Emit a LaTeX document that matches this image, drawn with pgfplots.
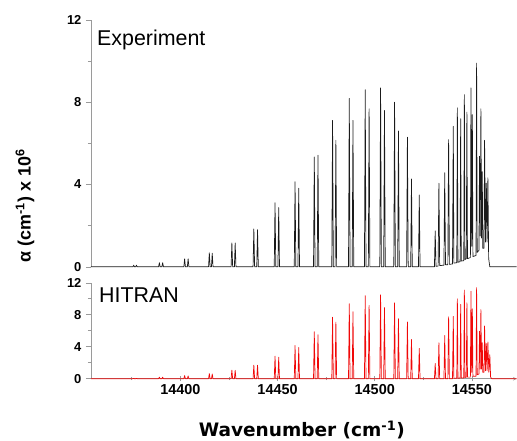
\documentclass[border=0pt]{standalone}
\usepackage{pgfplots}
\pgfplotsset{compat=1.18}
\usepackage{pgfplotstable}
\usepackage{fontspec}
\setmainfont{Liberation Sans}
\newfontfamily\dejavu{DejaVu Sans}
\definecolor{axgray}{HTML}{9A9A9A}
\definecolor{expcol}{HTML}{1A1A1A}
\definecolor{hitcol}{HTML}{F00808}

\pgfplotstableread{
x y
14354.0 0
14375.6 0
14376.0 0.08
14376.4 0
14377.0 0
14377.4 0.08
14377.8 0
14388.8 0
14389.2 0.20
14389.6 0
14390.5 0
14390.9 0.20
14391.3 0
14401.8 0
14402.2 0.39
14402.6 0
14403.6 0
14404.0 0.39
14404.4 0
14414.5 0
14414.9 0.68
14415.3 0
14416.0 0
14416.4 0.66
14416.8 0
14426.1 0
14426.5 1.16
14426.9 0
14427.8 0
14428.2 1.16
14428.6 0
14437.4 0
14437.8 1.84
14438.2 0
14439.3 0
14439.7 1.80
14440.1 0
14448.3 0
14448.7 3.12
14449.1 0
14450.2 0
14450.6 2.88
14451.0 0
14458.6 0
14459.0 4.14
14459.4 0
14460.5 0
14460.9 3.82
14461.3 0
14468.5 0
14468.9 5.34
14469.3 0
14470.4 0
14470.8 5.43
14471.2 0
14477.9 0
14478.3 7.12
14478.7 0
14479.6 0
14480.0 6.15
14480.4 0
14486.5 0
14486.9 8.19
14487.3 0
14488.4 0
14488.8 7.12
14489.2 0
14494.7 0
14495.1 8.61
14495.5 0
14496.7 0
14497.1 7.68
14497.5 0
14502.6 0
14503.0 8.70
14503.4 0
14504.6 0
14505.0 7.60
14505.4 0
14509.8 0
14510.2 8.00
14510.6 0
14511.8 0
14512.2 6.60
14512.6 0
14516.4 0
14516.8 6.30
14517.2 0
14518.5 0
14518.9 4.27
14519.3 0
14522.5 0
14522.9 3.49
14523.3 0
14530.7 0
14531.1 1.75
14531.5 0.02
14532.6 0.04
14533.0 4.06
14533.4 0.06
14535.6 0.08
14536.0 4.57
14536.4 0.10
14537.6 0.10
14538.0 6.18
14538.4 0.12
14540.0 0.14
14540.4 6.83
14540.7 0.18
14542.2 0.20
14542.5 7.73
14542.8 0.22
14543.9 0.25
14544.2 7.20
14544.5 0.28
14545.8 0.30
14546.1 8.37
14546.4 0.35
14547.1 0.40
14547.4 7.52
14547.7 0.40
14549.2 0.45
14549.5 8.70
14549.85 1.00
14550.2 7.40
14550.5 0.50
14552.1 0.55
14552.4 9.90
14552.7 0.70
14553.6 0.80
14553.9 5.38
14554.25 1.50
14554.6 7.68
14554.95 1.40
14555.3 4.62
14555.6 0.90
14556.2 0.90
14556.5 6.15
14556.95 1.20
14557.4 4.07
14557.8 1.20
14558.2 4.33
14558.6 0.40
14559.2 0
14573.0 0
}\expdata

\pgfplotstableread{
x y
14354.0 0
14375.6 0
14376.0 0.05
14376.4 0
14377.0 0
14377.4 0.05
14377.8 0
14388.8 0
14389.2 0.20
14389.6 0
14390.5 0
14390.9 0.20
14391.3 0
14401.8 0
14402.2 0.40
14402.6 0
14403.6 0
14404.0 0.35
14404.4 0
14414.5 0
14414.9 0.65
14415.3 0
14416.0 0
14416.4 0.60
14416.8 0
14426.1 0
14426.5 1.08
14426.9 0
14427.8 0
14428.2 1.05
14428.6 0
14437.4 0
14437.8 1.70
14438.2 0
14439.3 0
14439.7 1.70
14440.1 0
14448.3 0
14448.7 2.83
14449.1 0
14450.2 0
14450.6 2.70
14451.0 0
14458.6 0
14459.0 4.17
14459.4 0
14460.5 0
14460.9 3.92
14461.3 0
14468.5 0
14468.9 5.88
14469.3 0
14470.4 0
14470.8 5.50
14471.2 0
14477.9 0
14478.3 7.70
14478.7 0
14479.6 0
14480.0 7.08
14480.4 0
14486.5 0
14486.9 9.38
14487.3 0
14488.4 0
14488.8 8.38
14489.2 0
14494.7 0
14495.1 10.40
14495.5 0
14496.7 0
14497.1 9.17
14497.5 0
14502.6 0
14503.0 10.50
14503.4 0
14504.6 0
14505.0 8.90
14505.4 0
14509.8 0
14510.2 9.50
14510.6 0
14511.8 0
14512.2 7.50
14512.6 0
14516.4 0
14516.8 7.10
14517.2 0
14518.5 0
14518.9 4.90
14519.3 0
14522.5 0
14522.9 3.80
14523.3 0
14530.7 0
14531.1 1.90
14531.5 0
14532.6 0
14533.0 4.50
14533.4 0
14535.6 0
14536.0 5.40
14536.4 0
14537.6 0
14538.0 7.75
14538.4 0
14540.0 0
14540.4 7.80
14540.7 0.05
14542.2 0.05
14542.5 10.00
14542.8 0.05
14543.9 0.08
14544.2 9.30
14544.5 0.08
14545.8 0.10
14546.1 11.10
14546.4 0.15
14547.1 0.20
14547.4 9.50
14547.7 0.20
14549.2 0.20
14549.5 10.95
14549.85 0.80
14550.2 8.75
14550.5 0.30
14552.1 0.30
14552.4 11.40
14552.7 0.50
14553.6 0.60
14553.9 5.95
14554.25 1.20
14554.6 8.65
14554.95 1.20
14555.3 4.50
14555.6 0.80
14556.2 0.80
14556.5 6.60
14556.95 1.00
14557.4 4.40
14557.8 1.00
14558.2 4.60
14558.7 0.80
14559.2 3.00
14559.6 0.20
14560.2 0
14573.0 0
}\hitdata

\pgfplotsset{
  mypanel/.style={
    scale only axis,
    width=426bp,
    xmin=14354, xmax=14573,
    ymin=0, ymax=12,
    ytick={0,4,8,12},
    minor ytick={2,6,10},
    axis y line=left,
    axis line style={draw=axgray, line width=0.6pt, -},
    tick style={draw=axgray, line width=0.6pt},
    tick align=outside,
    major tick length=5bp,
    minor tick length=3bp,
    clip=false,
    /pgf/number format/assume math mode=true,
    yticklabel style={font=\bfseries\fontsize{13}{15}\selectfont, xshift=-1bp},
    xticklabel style={font=\bfseries\fontsize{14.5}{16}\selectfont},
  }
}

\begin{document}
\begin{tikzpicture}
\path (0bp,0bp) rectangle (517bp,441bp);
\begin{axis}[mypanel,
  at={(91bp,174bp)}, anchor=south west,
  height=247bp,
  axis x line=none,
  xtick=\empty,
]
\addplot[expcol, line width=0.7pt, line join=round] table[x=x,y=y] {\expdata};
\end{axis}
\begin{axis}[mypanel,
  at={(91bp,62bp)}, anchor=south west,
  height=96bp,
  axis x line=bottom,
  xtick={14400,14450,14500,14550},
  xticklabels={14400,14450,14500,14550},
  minor xtick={14375,14425,14475,14525},
  scaled x ticks=false,
]
\addplot[hitcol, line width=0.7pt, line join=round] table[x=x,y=y] {\hitdata};
\end{axis}
\node[anchor=base west, inner sep=0pt, font=\fontsize{21.5}{24}\selectfont] at (97bp,395bp) {Experiment};
\node[anchor=base west, inner sep=0pt, font=\fontsize{21.5}{24}\selectfont] at (99bp,138.7bp) {HITRAN};
\node[rotate=90, inner sep=0pt, font=\bfseries\fontsize{18}{20}\selectfont] at (25bp,235bp) {α (cm\textsuperscript{-1}) x 10\textsuperscript{6}};
\node[anchor=base, inner sep=0pt, font=\dejavu\bfseries\fontsize{18.6}{20}\selectfont] at (302bp,4.3bp) {Wavenumber (cm\textsuperscript{-1})};
\end{tikzpicture}
\end{document}
